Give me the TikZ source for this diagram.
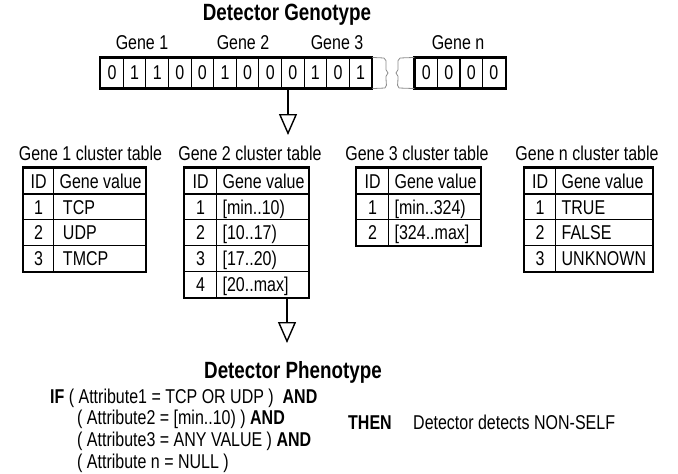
\documentclass[tikz,border=0pt]{standalone}
\usepackage{fontspec}
\setmainfont{Liberation Sans}[FakeStretch=0.8]
\usetikzlibrary{arrows.meta}
\tikzset{
  txt/.style={inner sep=0pt, font=\fontsize{20}{23}\selectfont},
  ttl/.style={inner sep=0pt, font=\fontsize{23.5}{27}\selectfont\bfseries},
  bit/.style={draw, line width=1.1pt, minimum width=22.6pt, minimum height=30pt, inner sep=0pt,
              font=\fontsize{20}{23}\selectfont},
  bitbox/.style={line width=2pt},
  brk/.style={draw=black!45, line width=0.8pt},
  idcell/.style={draw, line width=1.3pt, anchor=north west, inner xsep=0pt, inner ysep=0pt,
                 minimum height=25.8pt, text height=14.3pt, text depth=0pt, align=center,
                 font=\fontsize{20}{23}\selectfont},
  valcell/.style={draw, line width=1.3pt, anchor=north west, inner xsep=0pt, inner ysep=0pt,
                 minimum height=25.8pt, text height=14.3pt, text depth=0pt,
                 font=\fontsize{20}{23}\selectfont},
  tabbox/.style={line width=2.2pt},
  arr/.style={line width=1.4pt, -{Triangle[open, length=21pt, width=18pt]}}
}
% #1 name, #2 left x, #3 id width, #4 value width, #5 last row index, #6 rows
\newcommand\genetab[6]{%
  \foreach \a/\b [count=\i from 0] in {#6} {
    \node[idcell, text width=#3pt] (#1-id\i) at (#2, 167.5+\i*25.8) {\a};
    \node[valcell] (#1-v\i) at (#2+#3, 167.5+\i*25.8) {\makebox[#4pt][l]{\hspace{6pt}\b}};
  }
  \draw[tabbox] (#1-id0.north west) rectangle (#1-v#5.south east);
}
\begin{document}
\begin{tikzpicture}[x=1pt,y=-1pt]
\useasboundingbox (0,0) rectangle (678,474);

% Genotype
\node[ttl] (gtitle) at (287,15) {Detector Genotype};
\node[txt] (lg1) at (142,43) {Gene 1};
\node[txt] (lg2) at (243,43) {Gene 2};
\node[txt] (lg3) at (337,43) {Gene 3};
\node[txt] (lgn) at (458,43) {Gene n};

\foreach \v [count=\i] in {0,1,1,0,0,1,0,0,0,1,0,1}
  \node[bit] (b\i) at (112+\i*22.6-22.6,73) {\v};
\foreach \v [count=\i] in {0,0,0,0}
  \node[bit] (n\i) at (426.25+\i*22.5-22.5,73) {\v};
\draw[bitbox] (b1.north west) rectangle (b12.south east);
\draw[bitbox] (n1.north west) rectangle (n4.south east);

% break
\coordinate (k1t) at (384,58);
\coordinate (k1b) at (385,88);
\coordinate (k2t) at (400,58);
\coordinate (k2b) at (399,88);
\draw[brk] (b12.north east) -- (k1t);
\draw[brk] (b12.south east) -- (k1b);
\draw[brk] (k2t) -- (n1.north west);
\draw[brk] (k2b) -- (n1.south west);
\draw[brk] (k1t) .. controls (389,60) and (383,70) .. (388,73)
               .. controls (383,76) and (389,86) .. (k1b);
\draw[brk] (k2t) .. controls (395,60) and (401,70) .. (396,73)
               .. controls (401,76) and (395,86) .. (k2b);

% arrow 1
\coordinate (g1) at (288,135);
\draw[arr] (b9.south -| g1) -- (g1);

% Tables
\node[txt] (tt1) at (90.5,153) {Gene 1 cluster table};
\node[txt] (tt2) at (250,153) {Gene 2 cluster table};
\node[txt] (tt3) at (417,153) {Gene 3 cluster table};
\node[txt] (ttn) at (587,153) {Gene n cluster table};

\genetab{ta}{23}{30}{92}{3}{ID/Gene value, 1/\,TCP, 2/\,UDP, 3/\,TMCP}
\genetab{tb}{184}{32}{92}{4}{ID/Gene value, 1/{[min..10)}, 2/{[10..17)}, 3/{[17..20)}, 4/{[20..max]}}
\genetab{tc}{356}{32}{92}{2}{ID/Gene value, 1/{[min..324)}, 2/{[324..max]}}
\genetab{tn}{524}{31}{97}{3}{ID/Gene value, 1/TRUE, 2/FALSE, 3/UNKNOWN}

% arrow 2
\coordinate (p1) at (287,343);
\draw[arr] (tb-v4.south -| p1) -- (p1);

% Phenotype
\node[ttl] (ptitle) at (293,372) {Detector Phenotype};
\node[txt, anchor=base west] (c1) at (50,403.5) {\textbf{IF} ( Attribute1 = TCP OR UDP )\ \ \textbf{AND}};
\node[txt, anchor=base west] (c2) at (77,424.5) {( Attribute2 = [min..10) )\ \textbf{AND}};
\node[txt, anchor=base west] (c3) at (77,446.5) {( Attribute3 = ANY VALUE )\ \textbf{AND}};
\node[txt, anchor=base west] (c4) at (77,468.5) {( Attribute n = NULL )};
\node[txt, anchor=base west] (then) at (348,429.5) {\textbf{THEN}};
\node[txt, anchor=base west] (res) at (413,429.5) {Detector detects NON-SELF};
\end{tikzpicture}
\end{document}
